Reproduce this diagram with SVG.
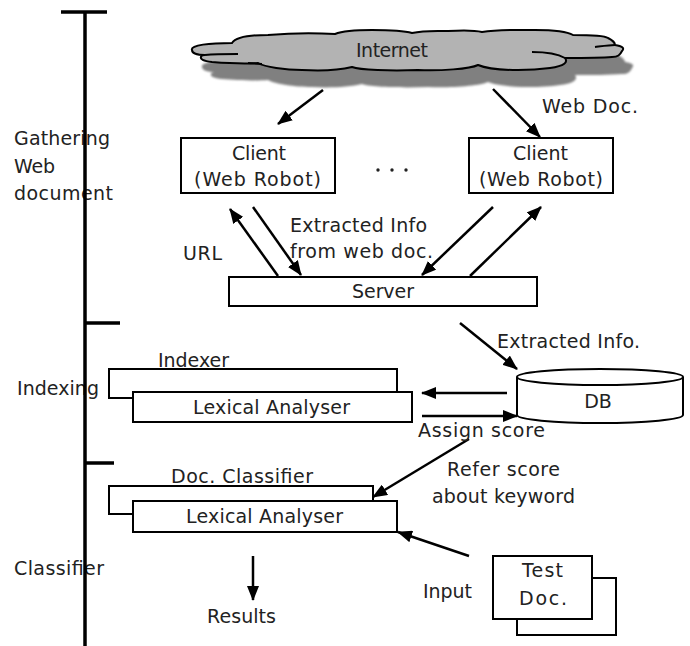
<svg xmlns="http://www.w3.org/2000/svg" width="690" height="646" viewBox="0 0 690 646">
<style>
text{font-family:"DejaVu Sans","Liberation Sans",sans-serif;font-size:19px;fill:#222}
.box{fill:#fff;stroke:#000;stroke-width:2}
.ln{stroke:#000;stroke-width:2;fill:none}
.ar{stroke:#000;stroke-width:2.5;fill:none;marker-end:url(#ah)}
.axis{stroke:#000;stroke-width:3.5;fill:none}
</style>
<defs>
<marker id="ah" viewBox="0 0 15 12" refX="14" refY="6" markerWidth="15" markerHeight="12" markerUnits="userSpaceOnUse" orient="auto"><path d="M0,0 L15,6 L0,12 Z" fill="#000"/></marker>
<path id="cloudShape" d="M192,50 C190,45 210,43 232,43 C236,37 250,35 268,35 C290,33 320,33 335,34 C345,30 360,30 372,30 C390,30 405,31 412,33 C425,30 440,31 448,31 C465,30 478,31 482,32 C500,29 520,30 535,30 C555,30 568,32 573,35 C590,35 605,36 608,38 C612,40 615,43 615,45 C622,46 625,48 622,51 C620,55 618,57 612,57 C600,58 580,58 565,58 C568,62 565,66 550,68 C535,70 525,70 518,70 C500,70 485,68 478,65 C470,69 440,71 418,70 C390,71 360,70 352,67 C340,70 320,71 302,70 C285,70 265,67 258,63 C245,64 225,63 212,62 C203,61 200,59 201,57 C201,56 202,55 205,55 C197,55 192,53 192,50 Z"/>
<filter id="soft" x="-5%" y="-30%" width="110%" height="160%"><feGaussianBlur stdDeviation="1.2"/></filter>
</defs>

<g id="phase-labels">
<text x="14" y="145" textLength="96" lengthAdjust="spacing">Gathering</text>
<text x="14" y="173" textLength="41" lengthAdjust="spacing">Web</text>
<text x="14" y="200" textLength="99" lengthAdjust="spacing">document</text>
<text x="17" y="395" textLength="82" lengthAdjust="spacing">Indexing</text>
<text x="14" y="575" textLength="90" lengthAdjust="spacing">Classifier</text>
</g>

<g id="axis">
<line class="axis" x1="85" y1="12" x2="85" y2="646"/>
<line class="axis" x1="61" y1="12" x2="107" y2="12"/>
<line class="axis" x1="85" y1="323" x2="120" y2="323"/>
<line class="axis" x1="85" y1="463" x2="114" y2="463"/>
</g>

<g id="internet">
<use href="#cloudShape" transform="translate(10,17)" fill="#808080" filter="url(#soft)"/>
<use href="#cloudShape" fill="#b3b3b3" stroke="#000" stroke-width="2"/>
<path class="ln" d="M205,55 C215,54 228,54 238,54 M248,63 L262,64 M532,52 C545,52 558,54 565,58 M595,47 C603,46 610,45 615,45"/>
<text x="356" y="57" textLength="72" lengthAdjust="spacing">Internet</text>
</g>

<g id="client1">
<rect class="box" x="181" y="138" width="154" height="55"/>
<text x="232" y="160" textLength="54" lengthAdjust="spacing">Client</text>
<text x="194" y="186" textLength="127" lengthAdjust="spacing">(Web Robot)</text>
</g>

<g id="ellipsis">
<circle cx="378" cy="170" r="1.7" fill="#222"/>
<circle cx="392" cy="170" r="1.7" fill="#222"/>
<circle cx="406" cy="170" r="1.7" fill="#222"/>
</g>

<g id="client2">
<rect class="box" x="469" y="138" width="144" height="55"/>
<text x="513" y="160" textLength="55" lengthAdjust="spacing">Client</text>
<text x="479" y="186" textLength="124" lengthAdjust="spacing">(Web Robot)</text>
</g>

<g id="server">
<rect class="box" x="229" y="277" width="308" height="29"/>
<text x="352" y="298" textLength="62" lengthAdjust="spacing">Server</text>
</g>

<g id="indexer">
<rect class="box" x="109" y="369" width="288" height="29"/>
<text x="158" y="367" textLength="71" lengthAdjust="spacing">Indexer</text>
<rect class="box" x="133" y="392" width="279" height="30"/>
<text x="193" y="414" textLength="157" lengthAdjust="spacing">Lexical Analyser</text>
</g>

<g id="db">
<path d="M517,377 L517,415 A83,8 0 0 0 683,415 L683,377" class="box"/>
<ellipse cx="600" cy="377" rx="83" ry="8" class="box"/>
<text x="598" y="408" text-anchor="middle">DB</text>
</g>

<g id="classifier">
<text x="171" y="483" textLength="142" lengthAdjust="spacing">Doc. Classifier</text>
<rect class="box" x="109" y="486" width="264" height="28"/>
<rect class="box" x="133" y="501" width="264" height="31"/>
<text x="186" y="523" textLength="157" lengthAdjust="spacing">Lexical Analyser</text>
</g>

<g id="testdoc">
<rect class="box" x="517" y="578" width="99" height="57"/>
<rect class="box" x="493" y="556" width="99" height="63"/>
<text x="522" y="577" textLength="41" lengthAdjust="spacing">Test</text>
<text x="519" y="605" textLength="48" lengthAdjust="spacing">Doc.</text>
</g>

<g id="connectors">
<line class="ar" x1="323" y1="90" x2="278" y2="124"/>
<line class="ar" x1="493" y1="89" x2="540" y2="137"/>
<line class="ar" x1="278" y1="276" x2="230" y2="209"/>
<line class="ar" x1="253" y1="207" x2="301" y2="275"/>
<line class="ar" x1="493" y1="207" x2="422" y2="275"/>
<line class="ar" x1="470" y1="276" x2="541" y2="207"/>
<line class="ar" x1="460" y1="323" x2="517" y2="369"/>
<line class="ar" x1="507" y1="393" x2="422" y2="393"/>
<line class="ar" x1="422" y1="416" x2="517" y2="416"/>
<line class="ar" x1="469" y1="439" x2="373" y2="497"/>
<line class="ar" x1="469" y1="556" x2="398" y2="532"/>
<line class="ar" x1="253" y1="556" x2="253" y2="600"/>
</g>

<g id="labels">
<text x="542" y="113" textLength="96" lengthAdjust="spacing">Web Doc.</text>
<text x="183" y="260" textLength="39" lengthAdjust="spacing">URL</text>
<text x="290" y="232" textLength="137" lengthAdjust="spacing">Extracted Info</text>
<text x="290" y="258" textLength="143" lengthAdjust="spacing">from web doc.</text>
<text x="497" y="348" textLength="143" lengthAdjust="spacing">Extracted Info.</text>
<text x="418" y="437" textLength="127" lengthAdjust="spacing">Assign score</text>
<text x="447" y="476" textLength="113" lengthAdjust="spacing">Refer score</text>
<text x="432" y="503" textLength="143" lengthAdjust="spacing">about keyword</text>
<text x="423" y="598" textLength="49" lengthAdjust="spacing">Input</text>
<text x="207" y="623" textLength="69" lengthAdjust="spacing">Results</text>
</g>
</svg>
